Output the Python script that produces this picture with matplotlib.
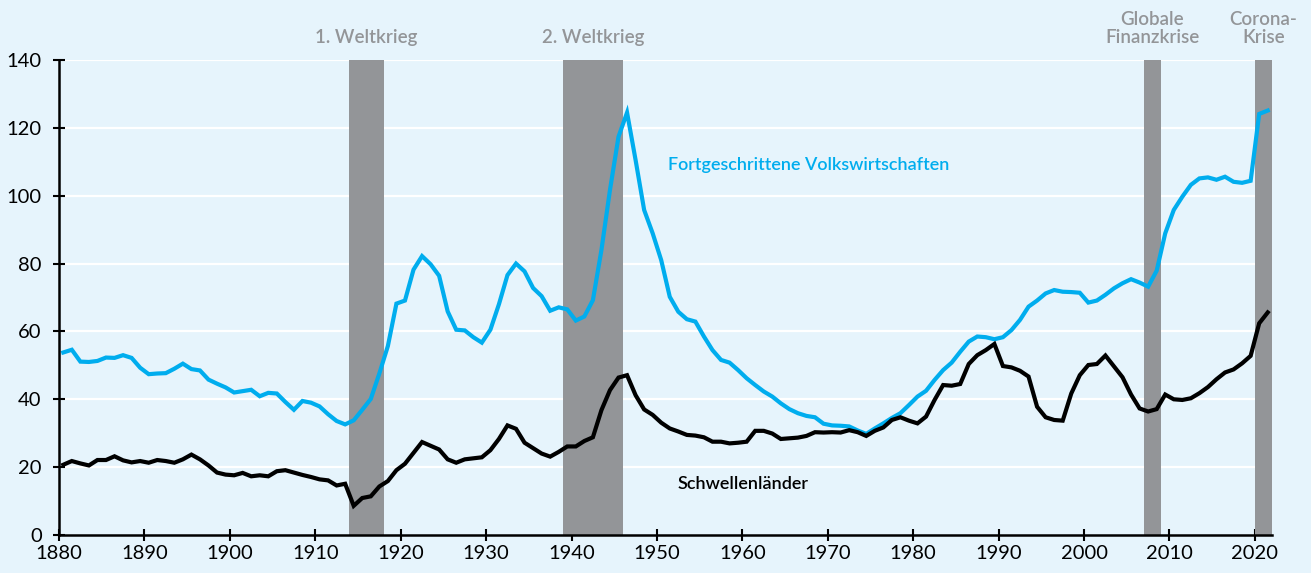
import matplotlib
matplotlib.use("Agg")
import matplotlib.pyplot as plt
import numpy as np

plt.rcParams['font.family'] = ['Lato', 'DejaVu Sans']

years = list(range(1880, 2022))

advanced = [
    53.8, 54.6, 51.1, 51.0, 51.3, 52.3, 52.2, 53.0, 52.2, 49.3,   # 1880-1889
    47.4, 47.6, 47.7, 49.0, 50.5, 48.9, 48.5, 45.8, 44.6, 43.5,   # 1890-1899
    42.0, 42.4, 42.8, 40.9, 41.9, 41.7, 39.2, 36.9, 39.5, 39.0,   # 1900-1909
    37.9, 35.6, 33.6, 32.6, 33.8, 36.9, 40.1, 47.6, 55.7, 68.2,   # 1910-1919
    69.1, 78.2, 82.2, 79.8, 76.4, 65.9, 60.5, 60.3, 58.3, 56.7,   # 1920-1929
    60.5, 68.0, 76.6, 80.0, 77.7, 72.8, 70.4, 66.1, 67.1, 66.5,   # 1930-1939
    63.2, 64.4, 69.2, 84.0, 101.7, 117.4, 124.5, 110.5, 95.8, 88.9,  # 1940-1949
    81.0, 70.2, 65.8, 63.6, 62.9, 58.5, 54.5, 51.6, 50.8, 48.6,   # 1950-1959
    46.2, 44.2, 42.3, 40.8, 38.8, 37.1, 35.9, 35.1, 34.7, 32.8,   # 1960-1969
    32.3, 32.2, 32.0, 30.8, 29.8, 31.4, 32.9, 34.5, 35.9, 38.3,   # 1970-1979
    40.8, 42.5, 45.7, 48.6, 50.8, 54.0, 57.0, 58.5, 58.3, 57.7,   # 1980-1989
    58.3, 60.4, 63.4, 67.3, 69.1, 71.2, 72.2, 71.7, 71.6, 71.4,   # 1990-1999
    68.5, 69.1, 70.8, 72.7, 74.2, 75.4, 74.4, 73.2, 77.9, 88.9,   # 2000-2009
    95.8, 99.7, 103.2, 105.1, 105.4, 104.7, 105.6, 104.1, 103.8, 104.4,  # 2010-2019
    124.1, 125.1,                                                  # 2020-2021
]

emerging = [
    20.7, 21.8, 21.1, 20.5, 22.1, 22.1, 23.2, 22.0, 21.4, 21.8,   # 1880-1889
    21.3, 22.1, 21.8, 21.3, 22.3, 23.7, 22.3, 20.5, 18.4, 17.8,   # 1890-1899
    17.6, 18.3, 17.3, 17.6, 17.3, 18.8, 19.1, 18.4, 17.7, 17.1,   # 1900-1909
    16.4, 16.1, 14.6, 15.1, 8.6, 10.9, 11.4, 14.3, 15.9, 19.1,    # 1910-1919
    21.0, 24.2, 27.4, 26.3, 25.2, 22.3, 21.3, 22.3, 22.6, 22.9,   # 1920-1929
    25.0, 28.3, 32.3, 31.3, 27.2, 25.6, 24.0, 23.1, 24.5, 26.1,   # 1930-1939
    26.1, 27.7, 28.8, 36.8, 42.7, 46.4, 47.1, 41.2, 37.0, 35.4,   # 1940-1949
    33.1, 31.4, 30.5, 29.5, 29.3, 28.8, 27.5, 27.5, 27.0, 27.2,   # 1950-1959
    27.5, 30.7, 30.7, 29.9, 28.3, 28.5, 28.7, 29.2, 30.3, 30.2,   # 1960-1969
    30.3, 30.2, 30.9, 30.3, 29.2, 30.7, 31.7, 33.9, 34.7, 33.7,   # 1970-1979
    32.9, 34.9, 39.8, 44.2, 44.0, 44.5, 50.4, 53.0, 54.5, 56.3,   # 1980-1989
    49.8, 49.4, 48.4, 46.7, 37.8, 34.7, 33.9, 33.7, 41.7, 47.1,   # 1990-1999
    50.1, 50.4, 52.9, 49.7, 46.5, 41.4, 37.3, 36.4, 37.1, 41.4,   # 2000-2009
    40.0, 39.8, 40.3, 41.8, 43.6, 45.9, 47.9, 48.8, 50.6, 52.8,   # 2010-2019
    62.4, 65.6,                                                    # 2020-2021
]

crises = [(1914, 1918), (1939, 1946), (2007, 2009), (2020, 2022)]
crisis_labels = ["1. Weltkrieg", "2. Weltkrieg", "Globale\nFinanzkrise", "Corona-\nKrise"]
label_adv = "Fortgeschrittene Volkswirtschaften"
label_em = "Schwellenländer"
xticks = list(range(1880, 2021, 10))
yticks = list(range(0, 141, 20))

bg = "#e6f4fc"
blue = "#00adee"
grey = "#939598"

fig = plt.figure(figsize=(13.11, 5.73), dpi=100, facecolor=bg)
ax = fig.add_axes([59/1311, 1 - 535/573, (1272 - 59)/1311, (535 - 60)/573])
ax.set_facecolor(bg)

ax.set_xlim(1880, 2022)
ax.set_ylim(0, 140)

for yv in yticks[1:]:
    ax.axhline(yv, color="white", lw=1.6, zorder=1)

for (a, b) in crises:
    ax.axvspan(a, b, ymin=0, ymax=1, color=grey, lw=0, zorder=2)

xpos = np.array(years) + 0.5
ax.plot(xpos, advanced, color=blue, lw=3.0, zorder=3, solid_joinstyle="miter")
ax.plot(xpos, emerging, color="black", lw=3.0, zorder=3, solid_joinstyle="miter")

ax.set_xticks(xticks)
ax.set_yticks(yticks)
ax.tick_params(axis="x", direction="inout", length=8, width=1.5, labelsize=14.5, pad=3, colors="black")
ax.tick_params(axis="y", direction="inout", length=9, width=1.5, labelsize=14.5, pad=8, colors="black")
for s in ["top", "right"]:
    ax.spines[s].set_visible(False)
for s in ["left", "bottom"]:
    ax.spines[s].set_linewidth(1.8)
    ax.spines[s].set_color("black")
    ax.spines[s].set_zorder(4)

for (a, b), lab in zip(crises, crisis_labels):
    xc = (a + b) / 2
    if "\n" in lab:
        ax.text(xc, 149.3, lab, ha="center", va="center", color=grey, fontsize=13.5,
                fontweight="semibold", linespacing=1.05, clip_on=False)
    else:
        ax.text(xc, 146.5, lab, ha="center", va="center", color=grey, fontsize=13.5,
                fontweight="semibold", clip_on=False)

ax.text(1951.3, 109, label_adv, ha="left", va="center", color=blue, fontsize=13, fontweight="semibold")
ax.text(1952.4, 15, label_em, ha="left", va="center", color="black", fontsize=13, fontweight="semibold")

fig.savefig("out.png", dpi=100, facecolor=bg)
